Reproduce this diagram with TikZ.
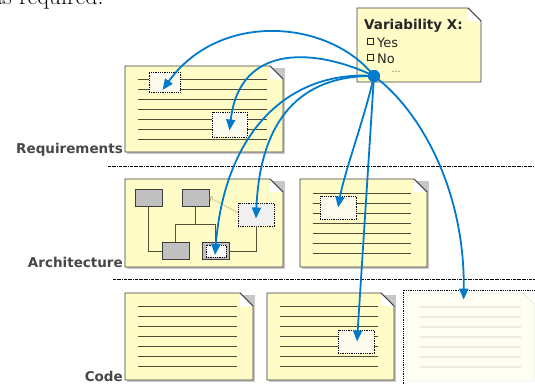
\documentclass[tikz,border=0pt]{standalone}
\usepackage{fontspec}
\setsansfont{DejaVu Sans}
\usetikzlibrary{arrows.meta,calc}

\definecolor{docfill}{RGB}{255,252,199}
\definecolor{docedge}{RGB}{60,60,60}
\definecolor{doclinecol}{RGB}{80,76,55}
\definecolor{selfill}{RGB}{251,250,236}
\definecolor{blockgray}{RGB}{192,192,192}
\definecolor{wirecol}{RGB}{85,80,55}
\definecolor{tieblue}{RGB}{0,122,204}
\definecolor{fadefill}{RGB}{254,254,242}
\definecolor{fadeedge}{RGB}{236,236,224}
\definecolor{hintcol}{RGB}{185,175,120}

\begin{document}
\begin{tikzpicture}[
  x=1pt, y=-1pt,
  font=\sffamily,
  >={Triangle[length=11pt,width=9pt]},
  page/.style={draw=docedge, fill=docfill, line width=0.9pt, line join=round},
  flap/.style={fill=white, draw=docedge, line width=0.9pt, line join=round},
  shade/.style={fill=black!22},
  docline/.style={draw=doclinecol, line width=1pt},
  fadepage/.style={draw=fadeedge, fill=fadefill, line width=0.9pt},
  fadeline/.style={draw=fadeedge, line width=1.1pt},
  sel/.style={draw=black, densely dotted, fill=selfill, line width=0.8pt, inner sep=0pt},
  block/.style={draw=docedge, fill=blockgray, line width=0.9pt, minimum width=27pt, minimum height=17pt, inner sep=0pt},
  wire/.style={draw=wirecol, line width=0.9pt},
  hint/.style={draw=hintcol, densely dotted, line width=1pt, -{To[length=3pt,width=5pt]}},
  sep/.style={draw=black, densely dash dot, line width=0.6pt},
  tie/.style={->, draw=tieblue, line width=1.8pt},
  lbl/.style={font=\sffamily\bfseries\fontsize{13.5}{16}\selectfont, text=black!72, inner sep=0pt},
  opt/.style={font=\sffamily\fontsize{13}{15}\selectfont, text=black!85, inner sep=0pt},
  chk/.style={draw=black!85, line width=0.7pt, minimum size=6pt, inner sep=0pt}
]
\path[use as bounding box] (0,0) rectangle (535,383);

% cut-off sentence above the figure
\node[anchor=base west, font=\rmfamily\fontsize{24}{28}\selectfont, inner sep=0pt] (head) at (-8,4.5) {as required.};

% layer separators
\draw[sep] (108,166) -- (535,166);
\draw[sep] (113,279) -- (535,279);

% document sheets
\foreach \xa/\ya/\xb/\yb in {125/66/283/152, 125/179/283/267, 300/179/427/267, 125/293/253/380, 267/293/394/380} {
  \fill[shade] (\xa+2,\ya+2) -- (\xb+2,\ya+2) -- (\xb+2,\yb+2) -- (\xa+2,\yb+2) -- cycle;
  \draw[page] (\xa,\ya) -- (\xb-13,\ya) -- (\xb,\ya+13) -- (\xb,\yb) -- (\xa,\yb) -- cycle;
  \fill[white] (\xb-13,\ya) -- (\xb,\ya+13) -- (\xb-13,\ya+13) -- cycle;
  \draw[flap] (\xb-13,\ya) -- (\xb,\ya+13);
}
\foreach \xa/\ya/\xb in {125/66/283, 300/180/427, 125/293/253, 267/293/394} {
  \foreach \i in {0,...,6}
    \draw[docline] (\xa+13,\ya+13+10*\i) -- (\xb-16,\ya+13+10*\i);
}

% sheet not yet written
\draw[fadepage] (407,293) -- (523,293) -- (534,304) -- (534,381) -- (407,381) -- cycle;
\foreach \i in {0,...,6}
  \draw[fadeline] (420,307+10*\i) -- (521,307+10*\i);
\node[draw=black, densely dotted, line width=0.8pt, minimum width=142pt, minimum height=105pt, inner sep=0pt] (later) at (474,342.5) {};

% architecture blocks
\node[block] (gb1) at (148.5,197.5) {};
\node[block] (gb2) at (195.5,197.5) {};
\node[block] (gb3) at (175.5,251) {};
\node[block] (gb4) at (215.5,251) {};
\node[sel, minimum width=20pt, minimum height=12pt, fill=white!90!blockgray] (archsel) at (216,251) {};
\node[sel, minimum width=36pt, minimum height=23pt, fill=black!6] (archdot) at (256,214.5) {};
\coordinate (bus) at (196,224);
\draw[wire] (gb1.south) |- (gb3.west);
\draw[wire] (gb2.south) -- (gb2.south |- bus);
\draw[wire] (gb3.north) |- (gb4.north |- bus) -- (gb4.north);
\draw[wire] (gb4.east) -| (archdot.south);
\draw[hint] ($(archdot.west)+(0,-2)$) -- (gb2.east);

% variation points in the artefacts
\node[sel, minimum width=31pt, minimum height=20pt] (req1) at (164.5,82) {};
\node[sel, minimum width=35pt, minimum height=25pt] (req2) at (229.5,124.5) {};
\node[sel, minimum width=36pt, minimum height=23pt] (arch2dot) at (338,207.5) {};
\node[sel, minimum width=36pt, minimum height=23pt] (code2dot) at (356,341.5) {};

% layer names
\node[lbl, anchor=base east] (reqlabel) at (123,153) {Requirements};
\node[lbl, anchor=base east] (archlabel) at (123,267) {Architecture};
\node[lbl, anchor=base east] (codelabel) at (123,381) {Code};

% variability note
\draw[page] (357,8) -- (468,8) -- (481,21) -- (481,82) -- (357,82) -- cycle;
\fill[white] (468,8) -- (481,21) -- (468,21) -- cycle;
\draw[flap] (468,8) -- (481,21);
\node[lbl, anchor=base west, text=black!85] (vtitle) at (364,29) {Variability X:};
\node[chk] (chkyes) at (370.5,41) {};
\node[opt, anchor=base west] (yes) at (377,47) {Yes};
\node[chk] (chkno) at (370.5,57) {};
\node[opt, anchor=base west] (no) at (377,63) {No};
\node[opt, font=\sffamily\fontsize{9}{10}\selectfont, text=black!60] (more) at (396,72) {\dots};

% traces from the variation point
\node[circle, fill=tieblue, minimum size=12pt, inner sep=0pt] (dot) at (374,76) {};
\draw[tie] (dot.center) .. controls (330,20) and (220,10) .. ($(req1.center)+(-2,8)$);
\draw[tie] (dot.center) .. controls (320,50) and (240,40) .. ($(req2.center)+(0,6)$);
\draw[tie] (dot.center) .. controls (290,70) and (225,130) .. ($(archsel.center)+(-1,4)$);
\draw[tie] (dot.center) .. controls (300,75) and (260,120) .. ($(archdot.center)+(0,4)$);
\draw[tie] (dot.center) .. controls (364,120) and (345,170) .. (arch2dot.center);
\draw[tie] (dot.center) -- ($(code2dot.center)+(1,0)$);
\draw[tie] (dot.center) .. controls (420,110) and (465,190) .. ($(later.north west)+(61,10)$);
\node[circle, fill=tieblue, minimum size=12pt, inner sep=0pt] at (dot) {};
\end{tikzpicture}
\end{document}
